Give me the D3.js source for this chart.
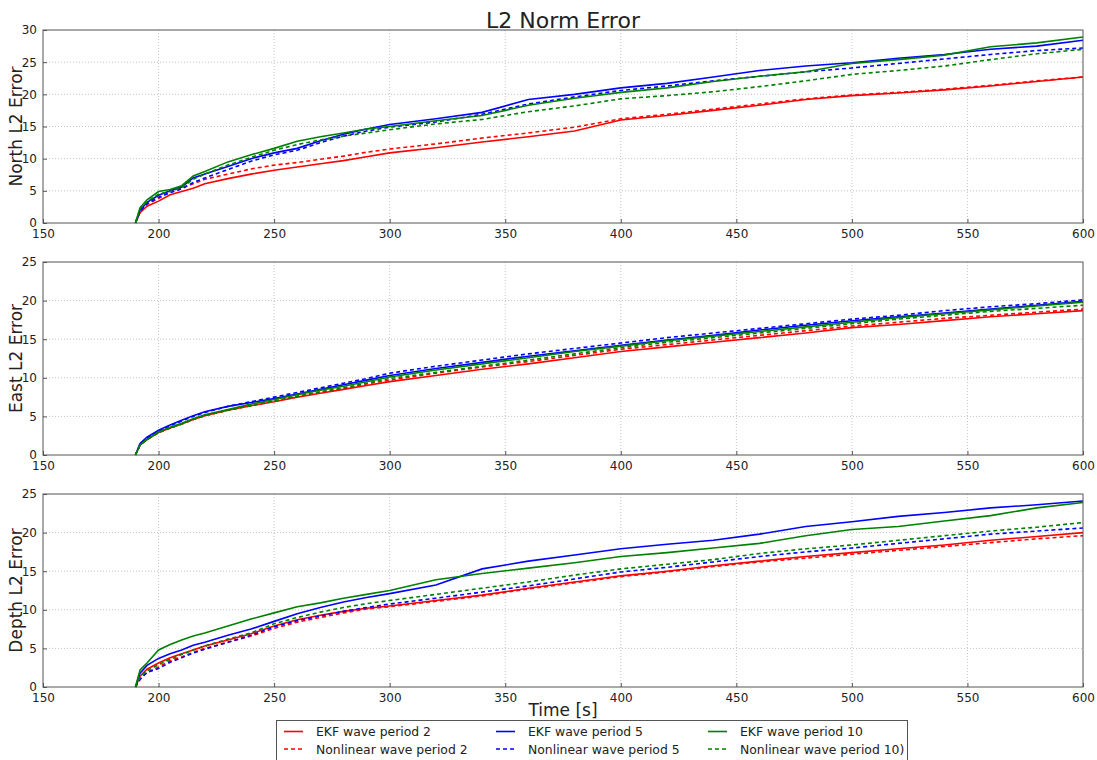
<!DOCTYPE html>
<html>
<head>
<meta charset="utf-8">
<script src="https://cdn.jsdelivr.net/npm/d3@7"></script>
<style>
  body { margin: 0; background: #fff; }
  text { font-family: "DejaVu Sans", sans-serif; fill: #222; }
</style>
</head>
<body>
<svg id="chart" width="1097" height="760"></svg>
<script>
/* global d3 */

// sample times (s), shared by all series
const times = [190, 192, 195, 200, 205, 210, 215, 220, 230, 240, 250, 260, 270, 280, 290,
  300, 320, 340, 360, 380, 400, 420, 440, 460, 480, 500, 520, 540, 560, 580, 600];

const xTicks = [150, 200, 250, 300, 350, 400, 450, 500, 550, 600];

// North
const northEkf2 = [0, 1.6, 2.6, 3.4, 4.4, 4.9, 5.4, 6.1, 6.9, 7.6, 8.2, 8.7, 9.2, 9.7, 10.3,
  10.9, 11.7, 12.6, 13.4, 14.3, 16.0, 16.7, 17.5, 18.3, 19.2, 19.8, 20.2, 20.7, 21.3, 22.0, 22.7];
const northNl2 = [0, 1.9, 2.9, 3.8, 4.9, 5.4, 6.1, 6.8, 7.6, 8.4, 9.0, 9.4, 9.9, 10.4, 11.0,
  11.5, 12.3, 13.2, 14.0, 14.9, 16.2, 16.9, 17.7, 18.5, 19.3, 19.9, 20.3, 20.8, 21.4, 22.1, 22.7];
const northEkf5 = [0, 2.0, 3.2, 4.3, 5.0, 5.6, 7.0, 7.6, 8.8, 10.0, 10.9, 11.6, 12.8, 13.8, 14.6,
  15.3, 16.2, 17.2, 19.2, 20.0, 21.0, 21.7, 22.7, 23.7, 24.4, 24.9, 25.6, 26.2, 27.0, 27.5, 28.4];
const northNl5 = [0, 1.8, 3.0, 4.0, 4.7, 5.3, 6.3, 7.0, 8.3, 9.6, 10.6, 11.3, 12.5, 13.5, 14.3,
  14.9, 15.7, 16.9, 18.5, 19.6, 20.6, 21.3, 22.1, 22.8, 23.5, 24.1, 24.8, 25.5, 26.2, 26.8, 27.2];
const northEkf10 = [0, 2.4, 3.6, 4.9, 5.2, 5.8, 7.3, 8.0, 9.5, 10.6, 11.6, 12.7, 13.4, 14.0, 14.6,
  15.0, 15.9, 16.7, 18.3, 19.4, 20.3, 21.0, 22.0, 22.8, 23.5, 24.8, 25.4, 26.1, 27.4, 28.0, 28.9];
const northNl10 = [0, 2.2, 3.3, 4.5, 4.9, 5.5, 6.8, 7.6, 9.0, 10.2, 11.3, 12.2, 12.9, 13.5, 14.0,
  14.5, 15.4, 16.1, 17.3, 18.2, 19.3, 19.8, 20.4, 21.2, 22.1, 23.1, 23.7, 24.4, 25.4, 26.3, 27.0];

// East
const eastEkf2 = [0, 1.3, 2.0, 2.9, 3.5, 4.0, 4.6, 5.1, 5.8, 6.4, 6.9, 7.5, 8.0, 8.5, 9.0,
  9.5, 10.3, 11.1, 11.8, 12.6, 13.4, 14.0, 14.6, 15.2, 15.8, 16.5, 16.9, 17.4, 17.9, 18.3, 18.7];
const eastNl2 = [0, 1.3, 2.0, 2.9, 3.5, 4.0, 4.6, 5.1, 5.8, 6.4, 7.0, 7.6, 8.1, 8.6, 9.2,
  9.7, 10.6, 11.4, 12.1, 12.9, 13.7, 14.3, 14.9, 15.5, 16.1, 16.7, 17.2, 17.7, 18.1, 18.5, 18.9];
const eastEkf5 = [0, 1.5, 2.3, 3.2, 3.9, 4.5, 5.1, 5.6, 6.3, 6.8, 7.3, 7.9, 8.5, 9.1, 9.7,
  10.3, 11.2, 12.0, 12.8, 13.5, 14.2, 14.9, 15.5, 16.2, 16.8, 17.4, 17.9, 18.4, 18.9, 19.4, 19.9];
const eastNl5 = [0, 1.4, 2.2, 3.1, 3.8, 4.4, 5.0, 5.5, 6.3, 6.9, 7.5, 8.1, 8.7, 9.3, 9.9,
  10.6, 11.5, 12.3, 13.1, 13.8, 14.5, 15.2, 15.8, 16.4, 17.0, 17.6, 18.1, 18.7, 19.2, 19.6, 20.1];
const eastEkf10 = [0, 1.3, 2.0, 3.0, 3.6, 4.1, 4.7, 5.2, 5.9, 6.6, 7.2, 7.8, 8.4, 8.9, 9.5,
  10.1, 11.0, 11.8, 12.6, 13.4, 14.1, 14.8, 15.4, 16.0, 16.6, 17.2, 17.8, 18.3, 18.8, 19.3, 19.8];
const eastNl10 = [0, 1.3, 2.0, 2.9, 3.5, 4.0, 4.6, 5.1, 5.8, 6.4, 7.0, 7.6, 8.2, 8.7, 9.3,
  9.9, 10.7, 11.5, 12.3, 13.1, 13.9, 14.6, 15.2, 15.8, 16.4, 17.0, 17.6, 18.1, 18.6, 19.0, 19.4];

// Depth
const depthEkf2 = [0, 1.4, 2.3, 3.1, 3.8, 4.3, 4.8, 5.3, 6.1, 6.9, 7.9, 8.7, 9.3, 9.8, 10.2,
  10.5, 11.2, 11.9, 12.8, 13.6, 14.4, 15.0, 15.7, 16.3, 16.9, 17.4, 17.9, 18.4, 19.0, 19.5, 20.0];
const depthNl2 = [0, 1.0, 1.9, 2.6, 3.4, 3.9, 4.5, 5.0, 5.8, 6.6, 7.6, 8.4, 9.0, 9.6, 10.1,
  10.4, 11.1, 11.8, 12.7, 13.5, 14.3, 14.9, 15.6, 16.2, 16.7, 17.2, 17.7, 18.2, 18.7, 19.2, 19.6];
const depthEkf5 = [0, 1.8, 2.8, 3.7, 4.3, 4.8, 5.4, 5.8, 6.7, 7.5, 8.5, 9.5, 10.3, 11.0, 11.6,
  12.1, 13.2, 15.3, 16.3, 17.1, 17.9, 18.5, 19.0, 19.8, 20.8, 21.4, 22.1, 22.6, 23.2, 23.6, 24.1];
const depthNl5 = [0, 1.0, 1.9, 2.4, 3.2, 3.8, 4.4, 4.9, 5.8, 6.7, 7.8, 8.6, 9.2, 9.8, 10.3,
  10.75, 11.5, 12.3, 13.1, 14.0, 14.9, 15.5, 16.2, 16.9, 17.5, 18.0, 18.6, 19.2, 19.8, 20.2, 20.6];
const depthEkf10 = [0, 2.2, 3.1, 4.8, 5.5, 6.1, 6.6, 7.0, 7.9, 8.8, 9.6, 10.4, 10.9, 11.5, 12.0,
  12.5, 13.9, 14.7, 15.4, 16.1, 16.9, 17.4, 18.0, 18.6, 19.6, 20.4, 20.8, 21.5, 22.2, 23.2, 23.9];
const depthNl10 = [0, 1.3, 2.1, 2.9, 3.6, 4.2, 4.8, 5.3, 6.2, 7.0, 8.2, 9.0, 9.7, 10.3, 10.8,
  11.2, 12.0, 12.8, 13.6, 14.5, 15.3, 15.9, 16.5, 17.3, 17.9, 18.4, 19.0, 19.6, 20.2, 20.7, 21.3];

const seriesNames = ['EKF wave period 2', 'Nonlinear wave period 2', 'EKF wave period 5',
  'Nonlinear wave period 5', 'EKF wave period 10', 'Nonlinear wave period 10)'];
const seriesColors = ['#ff0000', '#ff0000', '#0000ff', '#0000ff', '#008000', '#008000'];
const seriesDashed = [false, true, false, true, false, true];

const panels = [
  { label: 'North L2 Error', yMax: 30, top: 30,
    values: [northEkf2, northNl2, northEkf5, northNl5, northEkf10, northNl10] },
  { label: 'East L2 Error', yMax: 25, top: 262,
    values: [eastEkf2, eastNl2, eastEkf5, eastNl5, eastEkf10, eastNl10] },
  { label: 'Depth L2 Error', yMax: 25, top: 494,
    values: [depthEkf2, depthNl2, depthEkf5, depthNl5, depthEkf10, depthNl10] },
];

const left = 43;
const right = 1083;
const panelHeight = 193;
const svg = d3.select('#chart');

const x = d3.scaleLinear().domain([150, 600]).range([left, right]);

svg.append('text')
  .attr('x', 563).attr('y', 28)
  .attr('text-anchor', 'middle')
  .style('font-size', '22px')
  .text('L2 Norm Error');

panels.forEach((p) => {
  const y = d3.scaleLinear().domain([0, p.yMax]).range([p.top + panelHeight, p.top]);
  const yTicks = d3.range(0, p.yMax + 1, 5);
  const g = svg.append('g');

  // grid
  g.selectAll('.vgrid').data(xTicks.slice(1, -1)).enter().append('line')
    .attr('x1', d => x(d)).attr('x2', d => x(d))
    .attr('y1', p.top).attr('y2', p.top + panelHeight)
    .attr('stroke', '#c4c4c4').attr('stroke-dasharray', '1,2');
  g.selectAll('.hgrid').data(yTicks.slice(1, -1)).enter().append('line')
    .attr('x1', left).attr('x2', right)
    .attr('y1', d => y(d)).attr('y2', d => y(d))
    .attr('stroke', '#c4c4c4').attr('stroke-dasharray', '1,2');

  // series
  const line = d3.line()
    .x((d, i) => x(times[i]))
    .y(d => y(d));
  p.values.forEach((vals, i) => {
    g.append('path')
      .datum(vals)
      .attr('d', line)
      .attr('fill', 'none')
      .attr('stroke', seriesColors[i])
      .attr('stroke-width', 1.6)
      .attr('stroke-dasharray', seriesDashed[i] ? '4,3' : null);
  });

  // frame
  g.append('rect')
    .attr('x', left).attr('y', p.top)
    .attr('width', right - left).attr('height', panelHeight)
    .attr('fill', 'none').attr('stroke', '#555').attr('stroke-width', 1);

  // axes with inward ticks
  const xAxis = d3.axisBottom(x).tickValues(xTicks).tickSizeInner(-4).tickSizeOuter(0).tickPadding(6);
  const yAxis = d3.axisLeft(y).tickValues(yTicks).tickSizeInner(-4).tickSizeOuter(0).tickPadding(6);
  const gx = g.append('g').attr('transform', `translate(0,${p.top + panelHeight})`).call(xAxis);
  const gy = g.append('g').attr('transform', `translate(${left},0)`).call(yAxis);
  [gx, gy].forEach((a) => {
    a.select('.domain').remove();
    a.selectAll('line').attr('stroke', '#555');
    a.selectAll('text').style('font-size', '12px').attr('fill', '#222');
  });

  g.append('text')
    .attr('transform', `translate(22,${p.top + panelHeight / 2}) rotate(-90)`)
    .attr('text-anchor', 'middle')
    .style('font-size', '17px')
    .text(p.label);
});

svg.append('text')
  .attr('x', 563).attr('y', 716)
  .attr('text-anchor', 'middle')
  .style('font-size', '17px')
  .text('Time [s]');

// legend
const legend = svg.append('g');
legend.append('rect')
  .attr('x', 276.5).attr('y', 720.5)
  .attr('width', 631).attr('height', 45)
  .attr('fill', '#fff').attr('stroke', '#555');

const colX = [284, 496, 708];
const rowY = [731.5, 749];
seriesNames.forEach((name, i) => {
  const cx = colX[Math.floor(i / 2)];
  const cy = rowY[i % 2];
  legend.append('line')
    .attr('x1', cx).attr('x2', cx + 19)
    .attr('y1', cy).attr('y2', cy)
    .attr('stroke', seriesColors[i])
    .attr('stroke-width', 1.6)
    .attr('stroke-dasharray', seriesDashed[i] ? '4,3' : null);
  legend.append('text')
    .attr('x', cx + 32).attr('y', cy + 4.5)
    .style('font-size', '12.4px')
    .text(name);
});
</script>
</body>
</html>
